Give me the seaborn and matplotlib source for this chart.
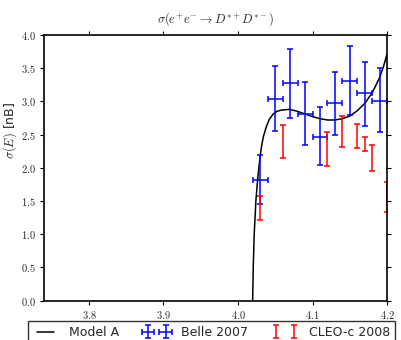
import numpy as np
import pandas as pd
import matplotlib
matplotlib.use("Agg")
import matplotlib.pyplot as plt
from matplotlib.ticker import FuncFormatter
import seaborn as sns

# ---- data ----
model_x = [4.0196, 4.0204, 4.0217, 4.024, 4.026, 4.028, 4.030, 4.0316, 4.034,
           4.0383, 4.042, 4.0471, 4.052, 4.0583, 4.0693, 4.08, 4.09, 4.10,
           4.11, 4.12, 4.13, 4.14, 4.15, 4.16, 4.17, 4.18, 4.19, 4.195, 4.2]
model_y = [0.0, 0.5, 1.0, 1.51, 1.78, 2.01, 2.20, 2.33, 2.47,
           2.63, 2.73, 2.81, 2.85, 2.87, 2.88, 2.85, 2.81, 2.77,
           2.74, 2.72, 2.72, 2.74, 2.78, 2.86, 2.97, 3.13, 3.36, 3.52, 3.72]

belle_x = [4.03, 4.05, 4.07, 4.09, 4.11, 4.13, 4.15, 4.17, 4.19]
belle_y = [1.82, 3.04, 3.27, 2.81, 2.47, 2.98, 3.31, 3.12, 3.01]
belle_lo = [0.36, 0.48, 0.52, 0.47, 0.43, 0.49, 0.52, 0.49, 0.47]
belle_hi = [0.37, 0.50, 0.52, 0.48, 0.44, 0.47, 0.53, 0.48, 0.49]
belle_xerr = [0.01] * 9

cleo_x = [4.03, 4.06, 4.12, 4.14, 4.16, 4.17, 4.18, 4.20]
cleo_y = [1.40, 2.40, 2.28, 2.55, 2.48, 2.36, 2.15, 1.565]
cleo_err = [0.18, 0.245, 0.26, 0.23, 0.18, 0.11, 0.195, 0.225]

# ---- style ----
sns.set_style("ticks")
plt.rcParams['font.family'] = ['DejaVu Sans']
plt.rcParams['mathtext.fontset'] = 'cm'

fig = plt.figure(figsize=(4.02, 3.40), dpi=100)
ax = fig.add_axes([0.110, 0.116, 0.853, 0.781])

df = pd.DataFrame({"E": model_x, "sigma": model_y})
sns.lineplot(data=df, x="E", y="sigma", ax=ax, color="black", linewidth=1.1,
             label="Model A", sort=False, zorder=2)

ax.errorbar(belle_x, belle_y, yerr=[belle_lo, belle_hi], xerr=belle_xerr,
            fmt='none', ecolor='blue', elinewidth=1.1, capsize=2.2,
            capthick=1.1, label="Belle 2007", zorder=2.2)
ax.errorbar(cleo_x, cleo_y, yerr=cleo_err, fmt='none', ecolor='red',
            elinewidth=1.1, capsize=2.2, capthick=1.1, label="CLEO-c 2008",
            zorder=2.2)

ax.set_xlim(3.74, 4.2)
ax.set_ylim(0.0, 4.0)
ax.set_xticks([3.8, 3.9, 4.0, 4.1, 4.2])
ax.set_yticks(np.arange(0, 4.01, 0.5))
fmt = FuncFormatter(lambda v, p: r"$%.1f$" % v)
ax.xaxis.set_major_formatter(fmt)
ax.yaxis.set_major_formatter(fmt)
ax.tick_params(axis='both', which='major', direction='out', length=3,
               width=0.8, labelsize=7.5, top=True, right=True, pad=3,
               color='black')
for s in ax.spines.values():
    s.set_visible(True)
    s.set_color('black')
    s.set_linewidth(1.2)
    s.set_zorder(3)

ax.set_xlabel("")
ax.set_ylabel(r"$\sigma(E)$ [nB]", fontsize=9)
ax.yaxis.set_label_coords(-0.074, 0.64)
ax.set_title(r"$\sigma(e^{+}e^{-}\rightarrow D^{*+}D^{*-})$", fontsize=9, pad=9)

leg = ax.legend(loc='upper left', bbox_to_anchor=(28 / 402, 1 - 321 / 340),
                bbox_transform=fig.transFigure, ncol=3, fontsize=9,
                numpoints=2, handlelength=2.0, handletextpad=0.9,
                columnspacing=2.0, frameon=True, fancybox=False,
                borderaxespad=0.0)
leg.get_frame().set_edgecolor('black')
leg.get_frame().set_linewidth(1.0)

fig.savefig("out.png", dpi=100)
